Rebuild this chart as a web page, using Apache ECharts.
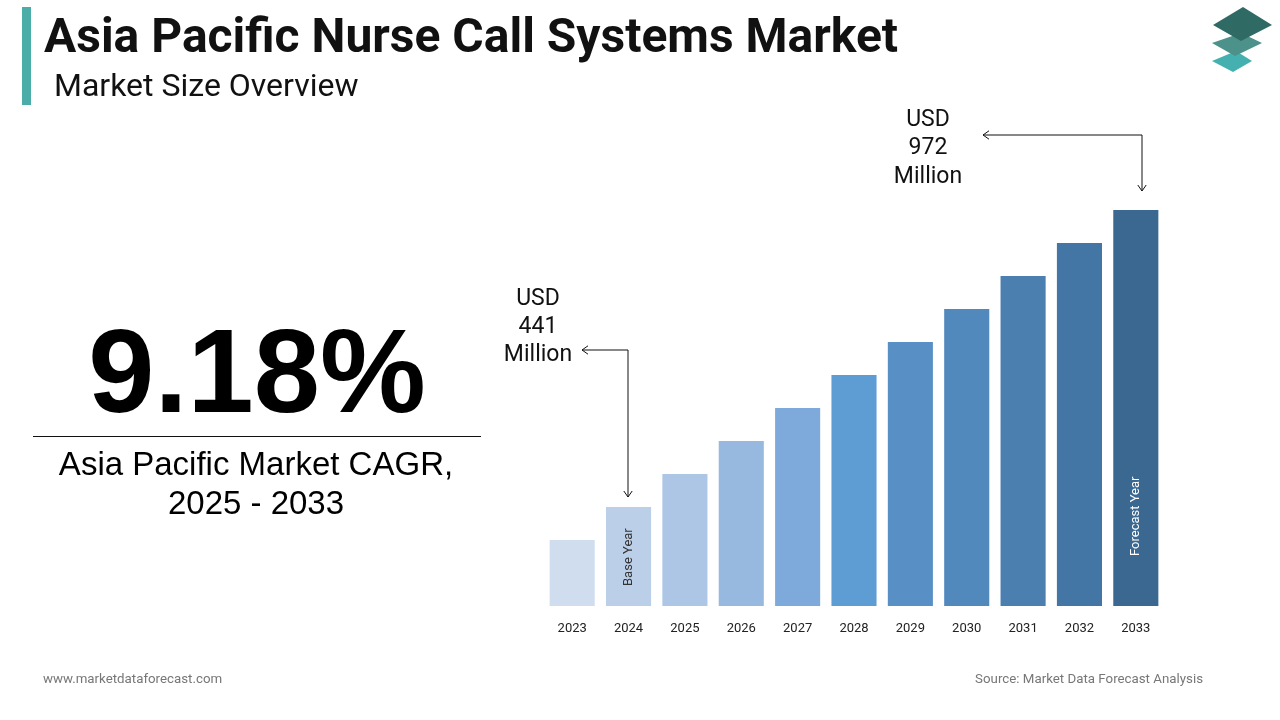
<!DOCTYPE html>
<html>
<head>
<meta charset="utf-8">
<script src="https://cdn.jsdelivr.net/npm/echarts@6/dist/echarts.min.js"></script>
<style>
html,body{margin:0;padding:0;background:#fff;}
#c{width:1280px;height:720px;}
</style>
</head>
<body>
<div id="c"></div>
<script>
const years = ['2023','2024','2025','2026','2027','2028','2029','2030','2031','2032','2033'];
const barValues = [66, 99, 132, 165, 198, 231, 264, 297, 330, 363, 396];
const barColors = ['#d0ddef','#bccfe8','#aec6e6','#98b9df','#7eaadb','#5e9cd4','#5890c6','#5289bd','#4a7fb0','#4476a5','#3b6890'];
const barNotes = {'2024':'Base Year','2033':'Forecast Year'};
const startLabel = ['USD','441','Million'];
const endLabel = ['USD','972','Million'];
const cagrText = '9.18%';
const cagrCaption = ['Asia Pacific Market CAGR,','2025 - 2033'];

const chart = echarts.init(document.getElementById('c'));

const data = barValues.map((v,i)=>{
  const d = {value:v, itemStyle:{color:barColors[i]}};
  const note = barNotes[years[i]];
  if(note){
    const isBase = years[i]==='2024';
    d.label = {
      show:true, formatter:note, rotate:90, position:'insideBottom',
      distance: isBase ? 20 : 50, align:'left', verticalAlign:'middle',
      fontFamily:'Roboto', fontSize:13, color: isBase ? '#333' : '#fff'
    };
  }
  return d;
});

function arrowHead(x,y,dir){
  const s=6;
  let pts;
  if(dir==='left') pts=[[x+s,y-s*0.7],[x,y],[x+s,y+s*0.7]];
  else pts=[[x-s*0.7,y-s],[x,y],[x+s*0.7,y-s]];
  return {type:'polyline',shape:{points:pts},style:{stroke:'#111',lineWidth:1,fill:null}};
}

const annoFont = {fontFamily:'Roboto',fontSize:23,fill:'#111',align:'center',verticalAlign:'middle'};

const graphics = [
  {type:'rect',shape:{x:22,y:7,width:9,height:98},style:{fill:'#4aada8'}},
  {type:'text',x:44,y:40,style:{text:'Asia Pacific Nurse Call Systems Market',fontFamily:'Roboto',fontWeight:'bold',fontSize:48,fill:'#111',verticalAlign:'middle'}},
  {type:'text',x:54,y:88,style:{text:'Market Size Overview',fontFamily:'Roboto',fontSize:32,fill:'#111',verticalAlign:'middle'}},
  // logo
  {type:'polygon',shape:{points:[[1236,51],[1252,61],[1233,72],[1212,61]]},style:{fill:'#45b0b0'}},
  {type:'polygon',shape:{points:[[1241,33],[1262,43],[1235,56],[1212,43]]},style:{fill:'#4c918a'}},
  {type:'polygon',shape:{points:[[1243,7],[1272,25],[1241,41],[1213,25]]},style:{fill:'#2f6b64'}},
  // CAGR
  {type:'text',x:257,y:379,style:{text:cagrText,fontFamily:'Liberation Sans',fontWeight:'bold',fontSize:119,fill:'#000',align:'center',verticalAlign:'middle'}},
  {type:'line',shape:{x1:33,y1:436.5,x2:481,y2:436.5},style:{stroke:'#111',lineWidth:1}},
  {type:'text',x:256,y:466,style:{text:cagrCaption[0],fontFamily:'Liberation Sans',fontSize:33,fill:'#000',align:'center',verticalAlign:'middle'}},
  {type:'text',x:256,y:505,style:{text:cagrCaption[1],fontFamily:'Liberation Sans',fontSize:33,fill:'#000',align:'center',verticalAlign:'middle'}},
  // annotations start
  {type:'text',x:538,y:299,style:Object.assign({text:startLabel[0]},annoFont)},
  {type:'text',x:538,y:327,style:Object.assign({text:startLabel[1]},annoFont)},
  {type:'text',x:538,y:355,style:Object.assign({text:startLabel[2]},annoFont)},
  {type:'polyline',shape:{points:[[582,350],[628,350],[628,497]]},style:{stroke:'#111',lineWidth:1,fill:null}},
  arrowHead(582,350,'left'),
  arrowHead(628,497,'down'),
  // annotations end
  {type:'text',x:928,y:120,style:Object.assign({text:endLabel[0]},annoFont)},
  {type:'text',x:928,y:148,style:Object.assign({text:endLabel[1]},annoFont)},
  {type:'text',x:928,y:177,style:Object.assign({text:endLabel[2]},annoFont)},
  {type:'polyline',shape:{points:[[983,135],[1142,135],[1142,191]]},style:{stroke:'#111',lineWidth:1,fill:null}},
  arrowHead(983,135,'left'),
  arrowHead(1142,191,'down'),
  // footer
  {type:'text',x:43,y:680,style:{text:'www.marketdataforecast.com',fontFamily:'Roboto',fontSize:13.3,fill:'#777',verticalAlign:'middle'}},
  {type:'text',x:1203,y:680,style:{text:'Source: Market Data Forecast Analysis',fontFamily:'Roboto',fontSize:13.3,fill:'#777',align:'right',verticalAlign:'middle'}}
];

chart.setOption({
  animation:false,
  grid:{left:544,right:116,top:210,bottom:114},
  xAxis:{
    type:'category', data:years,
    axisLine:{show:false}, axisTick:{show:false},
    axisLabel:{margin:16,fontFamily:'Roboto',fontSize:13,color:'#222'}
  },
  yAxis:{type:'value',min:0,max:396,show:false,splitLine:{show:false}},
  series:[{type:'bar',data:data,barCategoryGap:'20%'}],
  graphic:graphics
});
</script>
</body>
</html>
